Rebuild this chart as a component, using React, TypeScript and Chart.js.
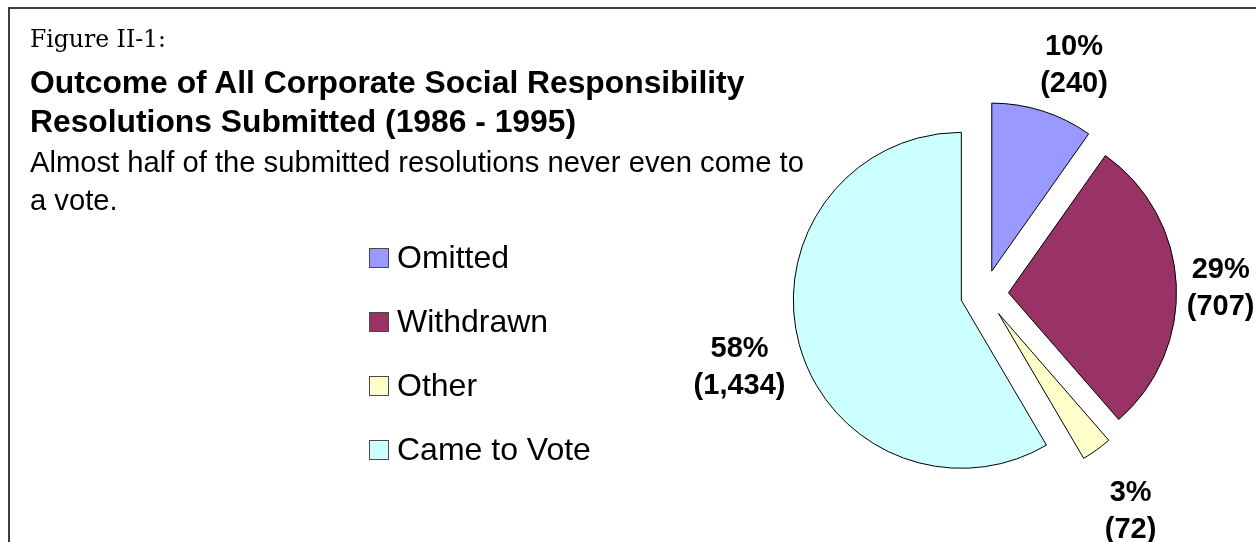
import React, { useEffect, useRef } from "react";
import { Chart, registerables } from "chart.js";

Chart.register(...registerables);

const categories = ["Omitted", "Withdrawn", "Other", "Came to Vote"];
const counts = [240, 707, 72, 1434];
const colors = ["#9999FF", "#993366", "#FFFFCC", "#CCFFFF"];
const figureLabel = "Figure II-1:";
const titleLines = [
  "Outcome of All Corporate Social Responsibility",
  "Resolutions Submitted (1986 - 1995)",
];
const subtitleLines = [
  "Almost half of the submitted resolutions never even come to",
  "a vote.",
];
// styling: slice explosion distance, label radial gap and sideways nudge
const EXPLODE = 24;
const labelGaps = [13, 9, 27, 9];
const labelNudgeX = [15, 0, -6, 0];

const SANS = '"Liberation Sans", Arial, Helvetica, sans-serif';

// draws every slice pushed out along its mid-angle (parallel gaps, like Excel)
const explodePlugin = {
  id: "explodedSlices",
  beforeDatasetDraw(chart: any, args: any) {
    const ctx = chart.ctx;
    const meta = args.meta;
    meta.data.forEach((arc: any) => {
      const p = arc.getProps(["startAngle", "endAngle"], true);
      const mid = (p.startAngle + p.endAngle) / 2;
      ctx.save();
      ctx.translate(Math.cos(mid) * EXPLODE, Math.sin(mid) * EXPLODE);
      arc.draw(ctx, chart.chartArea);
      ctx.restore();
    });
    return false;
  },
};

const labelPlugin = {
  id: "outsideLabels",
  afterDatasetsDraw(chart: any) {
    const ctx = chart.ctx;
    const meta = chart.getDatasetMeta(0);
    const data = chart.data.datasets[0].data as number[];
    const total = data.reduce((a, b) => a + b, 0);
    ctx.save();
    ctx.font = `bold 29px ${SANS}`;
    ctx.fillStyle = "#000";
    ctx.textAlign = "center";
    ctx.textBaseline = "alphabetic";
    meta.data.forEach((arc: any, i: number) => {
      const p = arc.getProps(["x", "y", "startAngle", "endAngle", "outerRadius"], true);
      const mid = (p.startAngle + p.endAngle) / 2;
      const dx = Math.cos(mid);
      const dy = Math.sin(mid);
      const l1 = `${Math.round((data[i] / total) * 100)}%`;
      const l2 = `(${data[i].toLocaleString("en-US")})`;
      const w = Math.max(ctx.measureText(l1).width, ctx.measureText(l2).width);
      const h = 65;
      const half = Math.abs(dx) * w / 2 + Math.abs(dy) * h / 2;
      const dist = p.outerRadius + EXPLODE + labelGaps[i] + half;
      const cx = p.x + dx * dist + labelNudgeX[i];
      const cy = p.y + dy * dist;
      ctx.fillText(l1, cx, cy - 4);
      ctx.fillText(l2, cx, cy + 33);
    });
    ctx.restore();
  },
};

export default function App() {
  const ref = useRef<HTMLCanvasElement | null>(null);
  useEffect(() => {
    if (!ref.current) return;
    const chart = new Chart(ref.current, {
      type: "pie",
      data: {
        labels: categories,
        datasets: [
          {
            data: counts,
            backgroundColor: colors,
            borderColor: "#000000",
            borderWidth: 1,
            offset: 0,
            hoverOffset: 0,
          },
        ],
      },
      options: {
        responsive: false,
        animation: false,
        layout: { padding: { left: 816, right: 103, top: 125.5, bottom: 79.5 } },
        plugins: {
          legend: { display: false },
          tooltip: { enabled: false },
          title: { display: false },
        },
      },
      plugins: [explodePlugin, labelPlugin],
    });
    return () => chart.destroy();
  }, []);

  return (
    <div
      style={{
        position: "fixed",
        left: 0,
        top: 0,
        width: 1256,
        height: 542,
        overflow: "hidden",
        background: "#fff",
      }}
    >
      <div
        style={{
          position: "absolute",
          left: 8,
          top: 7,
          width: 1400,
          height: 700,
          border: "2px solid #3c3c3c",
          boxSizing: "border-box",
        }}
      />
      <canvas
        ref={ref}
        width={1256}
        height={542}
        style={{ position: "absolute", left: 0, top: 0, width: 1256, height: 542 }}
      />
      <div
        style={{
          position: "absolute",
          left: 30,
          top: 28,
          fontFamily: '"DejaVu Serif", serif',
          fontSize: 23.5,
          lineHeight: "23.5px",
          whiteSpace: "nowrap",
          color: "#000",
        }}
      >
        {figureLabel}
      </div>
      <div
        style={{
          position: "absolute",
          left: 30,
          top: 63,
          fontFamily: SANS,
          fontWeight: "bold",
          fontSize: 31.8,
          lineHeight: "39px",
          whiteSpace: "nowrap",
          color: "#000",
        }}
      >
        {titleLines.map((t, i) => (
          <div key={i}>{t}</div>
        ))}
      </div>
      <div
        style={{
          position: "absolute",
          left: 30,
          top: 143,
          fontFamily: SANS,
          fontSize: 29.2,
          lineHeight: "38px",
          whiteSpace: "nowrap",
          color: "#000",
        }}
      >
        {subtitleLines.map((t, i) => (
          <div key={i}>{t}</div>
        ))}
      </div>
      {categories.map((c, i) => (
        <React.Fragment key={c}>
          <div
            style={{
              position: "absolute",
              left: 369,
              top: 248 + i * 64,
              width: 20,
              height: 20,
              boxSizing: "border-box",
              border: "1.5px solid #4a4a4a",
              background: colors[i],
            }}
          />
          <div
            style={{
              position: "absolute",
              left: 397,
              top: 268 + i * 64 - 27,
              fontFamily: SANS,
              fontSize: 32,
              lineHeight: "32px",
              whiteSpace: "nowrap",
              color: "#000",
            }}
          >
            {c}
          </div>
        </React.Fragment>
      ))}
    </div>
  );
}
